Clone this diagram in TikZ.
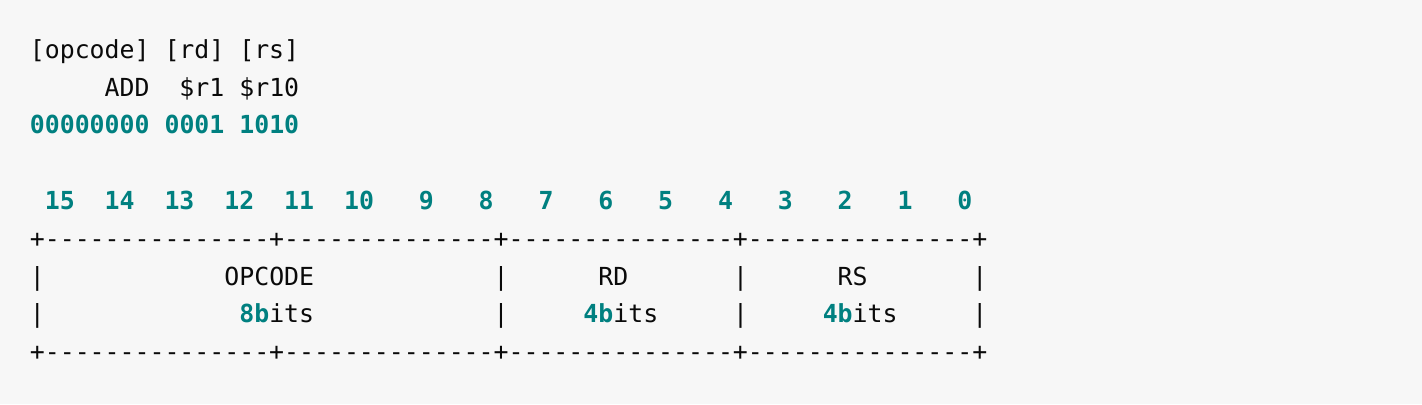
\documentclass[tikz,border=0pt]{standalone}
\usepackage{fontspec}
\setmonofont{DejaVu Sans Mono}
\usepackage{tikz}

\definecolor{codebg}{HTML}{F7F7F7}
\definecolor{codetext}{HTML}{0A0A0A}
\definecolor{numteal}{HTML}{008080}

\newcommand{\codefont}{\ttfamily\fontsize{7.07pt}{9pt}\selectfont}
\newcommand{\num}[1]{\textcolor{numteal}{\bfseries #1}}

\begin{document}
\begin{tikzpicture}[x=1mm, y=1mm,
        codeline/.style={anchor=base west, inner sep=0pt, font=\codefont, text=codetext}]
        % Background
        \fill[codebg] (0,0) rectangle (142.2,-40.4);
        \useasboundingbox (0,0) rectangle (142.2,-40.4);

        % Node definitions
        \node (hdr) [codeline] at (2.92,-5.83) {[opcode]~[rd]~[rs]};
        \node (asm) [codeline] at (2.92,-9.61) {~~~~~ADD~~\$r1~\$r10};
        \node (bin) [codeline] at (2.92,-13.39) {\num{00000000}~\num{0001}~\num{1010}};

        \node (bitnum) [codeline] at (2.92,-20.95)
            {\num{~15~~14~~13~~12~~11~~10~~~9~~~8~~~7~~~6~~~5~~~4~~~3~~~2~~~1~~~0}};
        \node (topline) [codeline] at (2.92,-24.73)
            {+---------------+--------------+---------------+---------------+};
        \node (namerow) [codeline] at (2.92,-28.51)
            {|~~~~~~~~~~~~OPCODE~~~~~~~~~~~~|~~~~~~RD~~~~~~~|~~~~~~RS~~~~~~~|};
        \node (sizerow) [codeline] at (2.92,-32.29)
            {|~~~~~~~~~~~~~\num{8b}its~~~~~~~~~~~~|~~~~~\num{4b}its~~~~~|~~~~~\num{4b}its~~~~~|};
        \node (botline) [codeline] at (2.92,-36.07)
            {+---------------+--------------+---------------+---------------+};

    \end{tikzpicture}
\end{document}
